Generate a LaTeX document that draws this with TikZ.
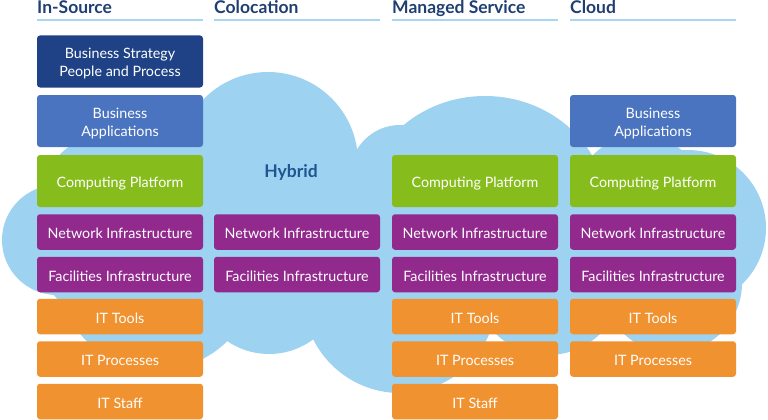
\documentclass[tikz,border=0pt]{standalone}
\usepackage{fontspec}
\setmainfont{Lato}
\usetikzlibrary{positioning}
\definecolor{cnavy}{HTML}{1F4286}
\definecolor{cblue}{HTML}{4A74C0}
\definecolor{cgreen}{HTML}{86BC1C}
\definecolor{cpurple}{HTML}{922A8E}
\definecolor{corange}{HTML}{F0922F}
\definecolor{csky}{HTML}{9DD2F1}
\definecolor{chead}{HTML}{1F3F72}
\definecolor{chybrid}{HTML}{1F5590}
\definecolor{cline}{HTML}{A8D5F1}
\tikzset{
  every picture/.style={font=\fontsize{14.3}{17.5}\selectfont},
  layer/.style={fill=#1, text=white, rounded corners=3pt, align=center, minimum width=166pt, inner sep=0pt},
  tall/.style={minimum height=52pt},
  short/.style={minimum height=35.5pt, text height=15.5pt, text depth=2.5pt},
  twoline/.style={text height=32.5pt, text depth=2.5pt},
  colhead/.style={font=\fontsize{17.5}{20}\selectfont\bfseries, text=chead, anchor=base west, inner sep=0pt},
  headline/.style={draw=cline, line width=2pt},
  puff/.style={fill=csky},
}
\begin{document}
\begin{tikzpicture}[x=1pt, y=-1pt]
  \useasboundingbox (0,0) rectangle (768,420);
  % cloud behind the stacks: puffs plus a core
  \fill[puff] (57,240) circle [radius=55pt];
  \fill[puff] (132,228) circle [radius=103pt];
  \fill[puff] (157,270) circle [radius=100pt];
  \fill[puff] (268,162) circle [radius=90pt];
  \fill[puff] (269,280) circle [radius=74pt];
  \fill[puff] (400,175) circle [radius=50pt];
  \fill[puff] (485,210) ellipse [x radius=122pt, y radius=114pt];
  \fill[puff] (400,296) circle [radius=97pt];
  \fill[puff] (548,280) circle [radius=75pt];
  \fill[puff] (640,200) circle [radius=65pt];
  \fill[puff] (688,228) circle [radius=78pt];
  \fill[puff] (672,283) circle [radius=70pt];
  \fill[puff] (57,240) -- (132,228) -- (268,162) -- (400,175) -- (485,210) -- (640,200)
    -- (688,228) -- (672,283) -- (548,280) -- (400,296) -- (269,280) -- (157,270) -- cycle;
  % column heads
  \foreach \x/\c/\txt in {37/ins/In-Source, 214/col/Colocation, 392/man/Managed Service, 570/cld/Cloud} {
    \node[colhead] (head-\c) at (\x,14) {\txt};
    \draw[headline] ([yshift=-6.5pt]head-\c.base west) -- ++(166,0);
  }
  % stacks
  \node[layer=cnavy, tall, twoline] (ins-strategy) at (120,61.5) {Business Strategy\\People and Process};
  \foreach \c/\x in {ins/120, cld/653} \node[layer=cblue, tall, twoline] (\c-apps) at (\x,121) {Business\\Applications};
  \foreach \c/\x in {ins/120, man/475, cld/653} \node[layer=cgreen, tall, short, minimum height=52pt] (\c-compute) at (\x,181) {Computing Platform};
  \foreach \c/\x in {ins/120, col/297, man/475, cld/653} {
    \node[layer=cpurple, short] (\c-network) at (\x,232) {Network Infrastructure};
    \node[layer=cpurple, short] (\c-facilities) at (\x,274.5) {Facilities Infrastructure};
  }
  \foreach \c/\x in {ins/120, man/475, cld/653} {
    \node[layer=corange, short] (\c-tools) at (\x,316.5) {IT Tools};
    \node[layer=corange, short] (\c-processes) at (\x,359) {IT Processes};
  }
  \foreach \c/\x in {ins/120, man/475} \node[layer=corange, short] (\c-staff) at (\x,401.5) {IT Staff};
  \node[font=\fontsize{17.5}{20}\selectfont\bfseries, text=chybrid] (hybrid) at (291,172) {Hybrid};
\end{tikzpicture}
\end{document}
